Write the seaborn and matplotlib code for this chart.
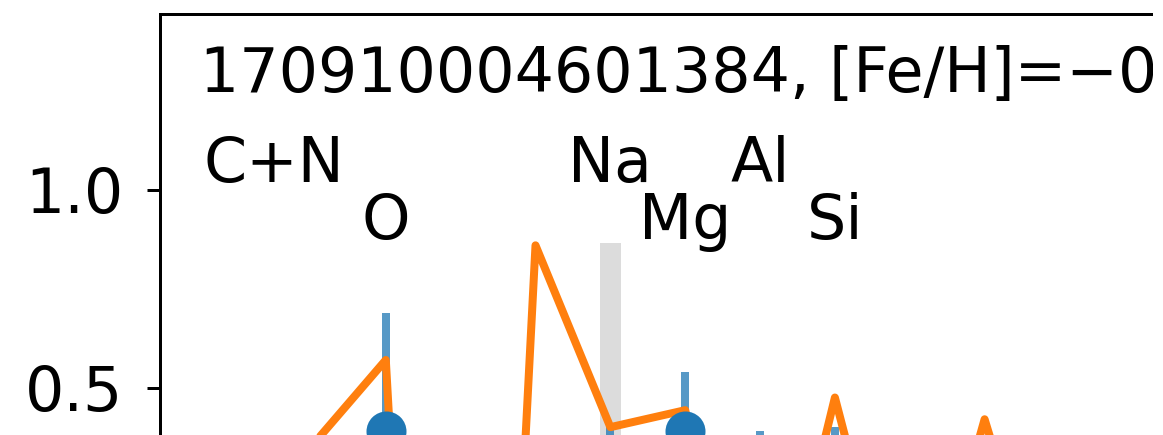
import matplotlib
matplotlib.use("Agg")
import matplotlib.pyplot as plt
from matplotlib.patches import Rectangle
import seaborn as sns

# ---------------- data ----------------
star_id = "170910004601384"
feh_text = "\u22120.35"

model_z = [6, 7, 8, 9, 10, 11, 12, 13, 14, 15, 16, 17, 18, 19]
model_val = [0.10, 0.35, 0.57, -2.8, 0.86, 0.40, 0.443, -0.30, 0.475, -0.25, 0.42, -0.20, 0.20, -0.40]

obs_x = [6.5, 8, 11, 12, 13, 14]
obs_val = [0.00, 0.39, 0.15, 0.39, 0.20, 0.25]
obs_err = [0.20, 0.30, 0.25, 0.15, 0.19, 0.15]

label_x = [6.5, 8, 11, 12, 13, 14]
label_text = ["C+N", "O", "Na", "Mg", "Al", "Si"]

na_x = 11
na_low, na_high = -0.30, 0.865

# ---------------- style ----------------
sns.set_style("ticks", {"axes.edgecolor": "black", "text.color": "black",
                        "xtick.color": "black", "ytick.color": "black",
                        "axes.labelcolor": "black"})
plt.rcParams["font.family"] = ["DejaVu Sans"]

FS = 61.7
W, H, DPI = 1163, 435, 72
fig = plt.figure(figsize=(W / DPI, H / DPI), dpi=DPI)

# layout (pixels)
x_left, x_right = 4.9766, 20.0
y_bottom, y_top = -0.30, 1.4452
px_per_x = 74.85
px_per_y = 395.3
left_px, top_px = 159.5, 14.0
ax_w = (x_right - x_left) * px_per_x
ax_h = (y_top - y_bottom) * px_per_y
ax = fig.add_axes([left_px / W, 1 - (top_px + ax_h) / H, ax_w / W, ax_h / H])
ax.set_xlim(x_left, x_right)
ax.set_ylim(y_bottom, y_top)

# gray range bar for Na
ax.bar([na_x], [na_high - na_low], bottom=[na_low], width=0.28,
       color="gainsboro", zorder=1, linewidth=0)

# error bars (lighter)
ax.errorbar(obs_x, obs_val, yerr=obs_err, fmt="none",
            ecolor=matplotlib.colors.to_rgba("#1f77b4", 0.75),
            elinewidth=8, capsize=0, zorder=1.5)

# model line
sns.lineplot(x=model_z, y=model_val, color="#ff7f0e", linewidth=8,
             estimator=None, sort=False, ax=ax, zorder=2)

# observed points
sns.scatterplot(x=obs_x, y=obs_val, color="#1f77b4", s=1600,
                edgecolor="#1f77b4", linewidth=0, ax=ax, zorder=3)

# element labels
for i, (lx, lt) in enumerate(zip(label_x, label_text)):
    ly = 1.019 if i % 2 == 0 else 0.875
    ax.text(lx, ly, lt, ha="center", va="baseline", fontsize=FS)

ax.text(5.517, 1.2475, f"{star_id}, [Fe/H]={feh_text}", ha="left",
        va="baseline", fontsize=FS)

ax.set_yticks([0.0, 0.5, 1.0])
ax.set_yticklabels(["0.0", "0.5", "1.0"])
ax.tick_params(axis="both", labelsize=FS, length=13.5, width=3, pad=23)
for s in ax.spines.values():
    s.set_linewidth(3)

# crop margin at right edge as in the reference
fig.add_artist(Rectangle((1153 / W, 0), 1, 1, transform=fig.transFigure,
                         facecolor="white", edgecolor="none", zorder=100))

fig.savefig("out.png", dpi=DPI)
